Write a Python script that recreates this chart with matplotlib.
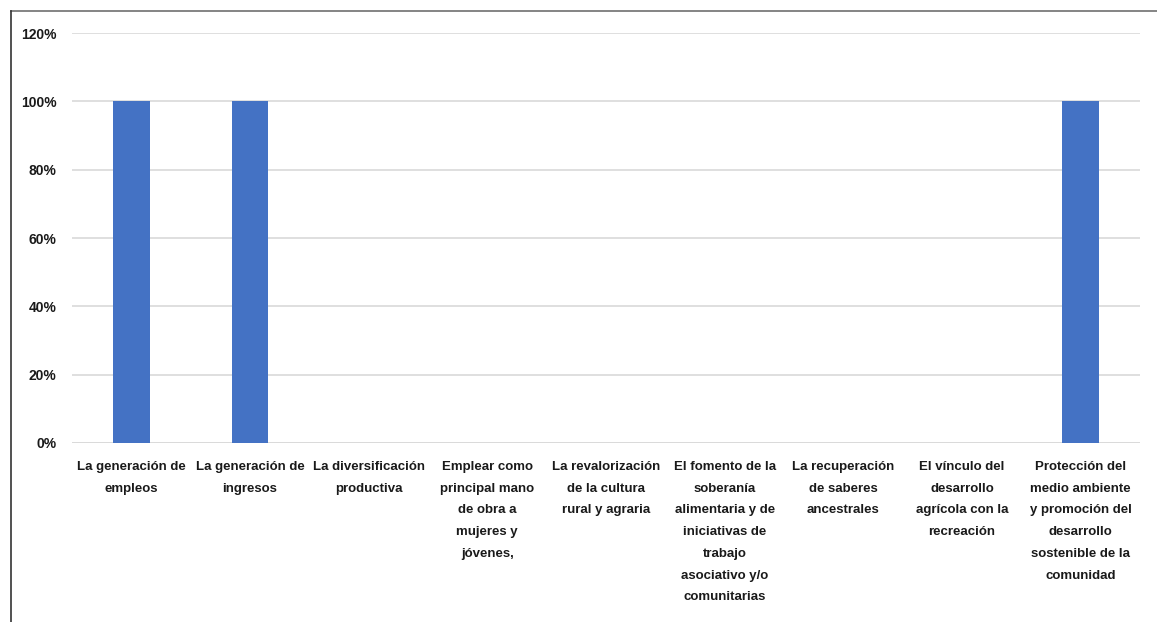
import matplotlib.pyplot as plt
from matplotlib.lines import Line2D
from matplotlib.ticker import PercentFormatter

# categorias y valores
categorias = [
    "La generación de\nempleos",
    "La generación de\ningresos",
    "La diversificación\nproductiva",
    "Emplear como\nprincipal mano\nde obra a\nmujeres y\njóvenes,",
    "La revalorización\nde la cultura\nrural y agraria",
    "El fomento de la\nsoberanía\nalimentaria y de\niniciativas de\ntrabajo\nasociativo y/o\ncomunitarias",
    "La recuperación\nde saberes\nancestrales",
    "El vínculo del\ndesarrollo\nagrícola con la\nrecreación",
    "Protección del\nmedio ambiente\ny promoción del\ndesarrollo\nsostenible de la\ncomunidad",
]
valores = [1.0, 1.0, 0, 0, 0, 0, 0, 0, 1.0]
y_ticks = [0, 0.2, 0.4, 0.6, 0.8, 1.0, 1.2]

plt.rcParams['font.family'] = ['Liberation Sans', 'DejaVu Sans']

fig = plt.figure(figsize=(11.57, 6.22), dpi=100)
ax = fig.add_axes([0.0622, 0.2878, 0.9231, 0.6591])

x = range(len(categorias))
ax.bar(x, valores, width=0.31, color='#4472C4', zorder=3)

ax.set_xlim(-0.5, len(categorias) - 0.5)
ax.set_ylim(0, 1.2)
ax.set_yticks(y_ticks)
ax.yaxis.set_major_formatter(PercentFormatter(1.0, decimals=0))
ax.set_xticks(list(x))
ax.set_xticklabels(categorias, fontsize=9.5, fontweight='bold', color='#1a1a1a',
                   linespacing=2.08, va='top')
for lbl in ax.get_yticklabels():
    lbl.set_fontsize(10)
    lbl.set_fontweight('bold')
    lbl.set_color('#1a1a1a')
ax.tick_params(axis='both', length=0)
ax.tick_params(axis='x', pad=13)
ax.tick_params(axis='y', pad=11)

ax.grid(axis='y', color='#d9d9d9', linewidth=1.2, zorder=0)
for s in ax.spines.values():
    s.set_visible(False)
ax.axhline(0, color='#d9d9d9', linewidth=1.2, zorder=1)

# marco de la imagen
fig.add_artist(Line2D([11 / 1157, 1], [1 - 11 / 622, 1 - 11 / 622],
                      color='#707070', linewidth=1.2, transform=fig.transFigure))
fig.add_artist(Line2D([11 / 1157, 11 / 1157], [0, 1 - 11 / 622],
                      color='#333333', linewidth=1.2, transform=fig.transFigure))

plt.savefig('out.png', dpi=100)
